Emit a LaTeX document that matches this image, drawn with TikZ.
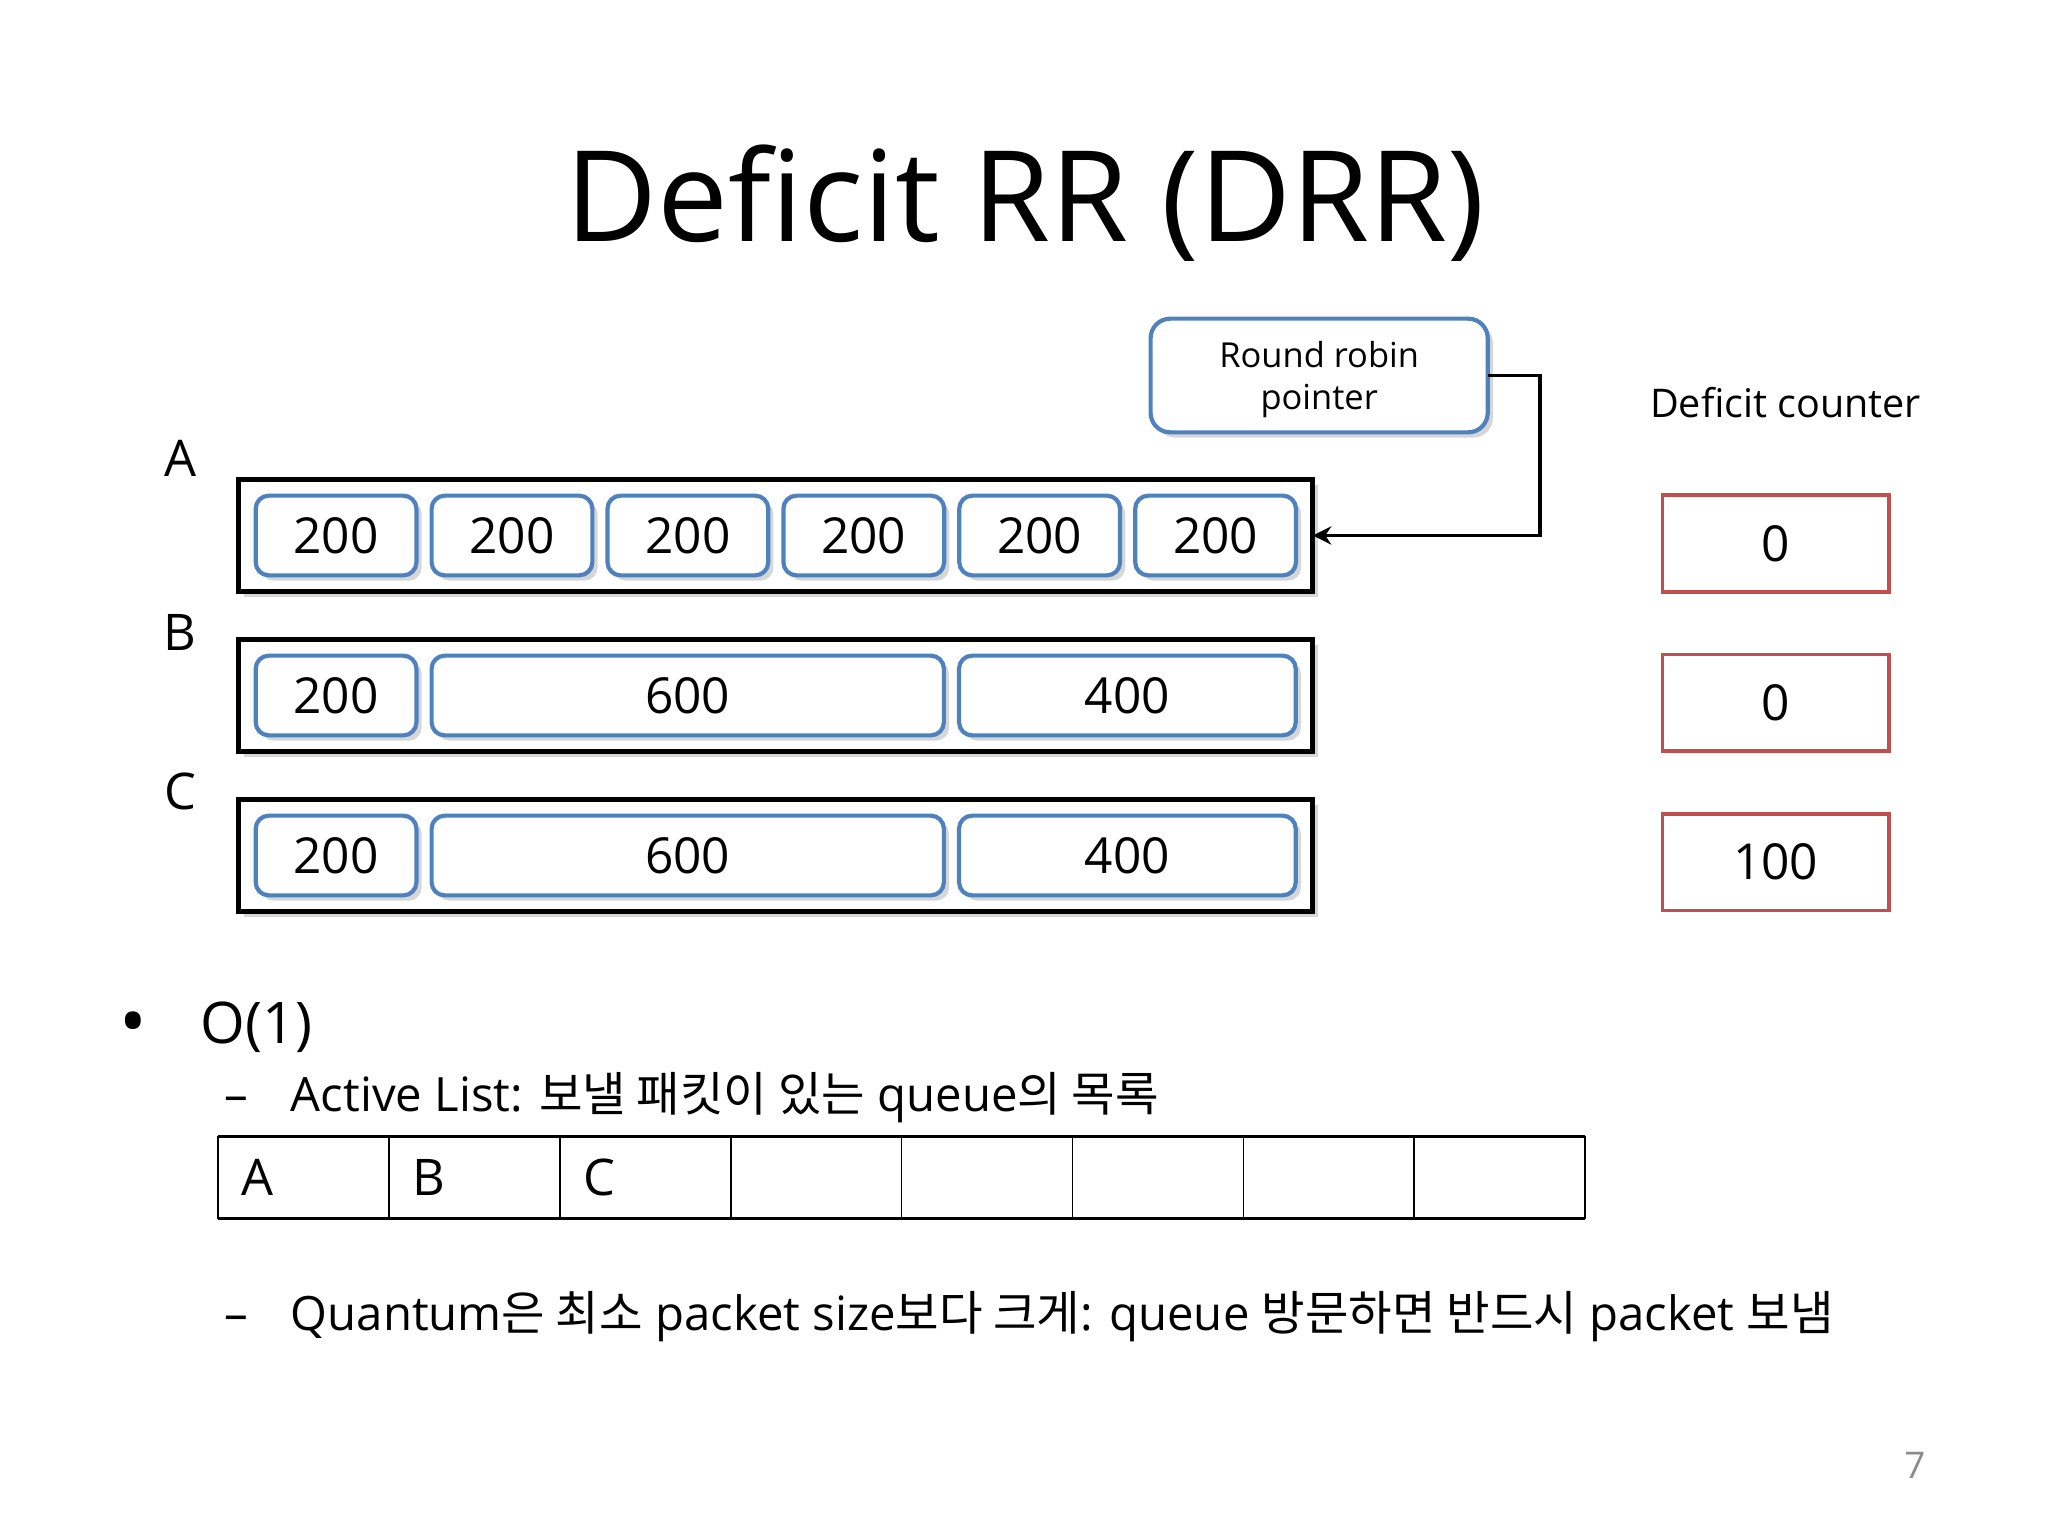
\documentclass[tikz,border=0pt]{standalone}
\usepackage{fontspec}
\setmainfont{Open Sans}
\newfontfamily\kr[Scale=1.0]{Noto Sans CJK KR}
\usepackage{tikz}
\usetikzlibrary{positioning,arrows.meta,shadows}
\usepackage{xcolor}
\definecolor{pktblue}{RGB}{79,129,189}
\definecolor{ctrred}{RGB}{192,80,77}
\newcommand{\fs}[2]{\fontsize{#1}{#2}\selectfont}
\tikzset{
  >=Stealth,
  softshadow/.style={drop shadow={shadow xshift=0.04cm,shadow yshift=-0.04cm,opacity=0.32}},
}

\begin{document}
\begin{tikzpicture}[
  x=0.01cm,y=-0.01cm,
  queue/.style={draw,line width=0.038cm,fill=white,outer sep=0pt,
    minimum width=8.22cm,minimum height=0.86cm,softshadow},
  pkt/.style={draw=pktblue,line width=0.032cm,rounded corners=0.1cm,fill=white,outer sep=0pt,
    minimum width=1.23cm,minimum height=0.61cm,inner sep=0pt,font=\fs{10.8pt}{13pt},softshadow},
  ctr/.style={draw=ctrred,line width=0.028cm,outer sep=0pt,minimum width=1.73cm,minimum height=0.74cm,
    inner sep=0pt,font=\fs{10.8pt}{13pt}},
  cell/.style={draw,line width=0.012cm,outer sep=0pt,minimum height=0.63cm,text width=0.9475cm,
    inner xsep=0.18cm,align=left,font=\fs{11pt}{13pt}},
  qlabel/.style={font=\fs{11pt}{13pt}},
  item/.style={anchor=base west,inner sep=0pt,font=\fs{10.3pt}{12pt}}
]
\useasboundingbox (0,0) rectangle (1568,1176);

% title
\node[anchor=base,font=\fs{27.5pt}{33pt}] (title) at (785,185) {Deficit RR (DRR)};

% queues
\node[queue] (qA) at (594,410) {};
\node[queue] (qB) at (594,532.5) {};
\node[queue] (qC) at (594,655) {};

\node[qlabel] (lA) at (138,351) {A};
\node[qlabel] (lB) at (138,484) {B};
\node[qlabel] (lC) at (138,606) {C};

\node[pkt,right=0.13cm of qA.west] (a1) {200};
\node[pkt,right=0.116cm of a1] (a2) {200};
\node[pkt,right=0.116cm of a2] (a3) {200};
\node[pkt,right=0.116cm of a3] (a4) {200};
\node[pkt,right=0.116cm of a4] (a5) {200};
\node[pkt,right=0.116cm of a5] (a6) {200};

\node[pkt,right=0.13cm of qB.west] (b1) {200};
\node[pkt,right=0.116cm of b1,minimum width=3.92cm] (b2) {600};
\node[pkt,right=0.116cm of b2,minimum width=2.576cm] (b3) {400};

\node[pkt,right=0.13cm of qC.west] (c1) {200};
\node[pkt,right=0.116cm of c1,minimum width=3.92cm] (c2) {600};
\node[pkt,right=0.116cm of c2,minimum width=2.576cm] (c3) {400};

% round robin pointer
\node[draw=pktblue,line width=0.032cm,rounded corners=0.15cm,fill=white,outer sep=0pt,
  minimum width=2.58cm,minimum height=0.87cm,align=center,text depth=0pt,
  font=\fs{7.5pt}{9.1pt},softshadow] (rr) at (1010,287.5) {Round robin\\pointer};
\draw[-{Stealth[length=0.14cm,width=0.14cm]},line width=0.03cm]
  (rr.east) -- ++(40,0) |- (qA.east);

% deficit counters
\node[anchor=base,font=\fs{8.6pt}{10pt}] (dctitle) at (1367,320) {Deficit counter};
\node[ctr] (dA) at (1359.5,416) {0};
\node[ctr,below=0.48cm of dA] (dB) {0};
\node[ctr,below=0.48cm of dB] (dC) {100};

% bullets
\node[font=\fs{16pt}{18pt}] (bul) at (102,788) {\textbullet};
\node[anchor=base west,inner sep=0pt,font=\fs{12.5pt}{15pt}] (o1) at (153,799) {O(1)};
\node[item] (d1) at (171,851) {–};
\node[item] (t1) at (222,851) {Active List: {\kr 보낼 패킷이 있는} queue{\kr 의 목록}};

% active list
\node[cell] (s1) at (232.4,901.5) {A};
\node[cell,right=0pt of s1] (s2) {B};
\node[cell,right=0pt of s2] (s3) {C};
\node[cell,right=0pt of s3] (s4) {};
\node[cell,right=0pt of s4] (s5) {};
\node[cell,right=0pt of s5] (s6) {};
\node[cell,right=0pt of s6] (s7) {};
\node[cell,right=0pt of s7] (s8) {};
\draw[line width=0.025cm] (s1.north west) -- (s8.north east);
\draw[line width=0.025cm] (s1.south west) -- (s8.south east);

\node[item] (d2) at (171,1019) {–};
\node[item] (t2) at (222,1019) {Quantum{\kr 은 최소} packet size{\kr 보다 크게}: queue {\kr 방문하면 반드시} packet {\kr 보냄}};

% page number
\node[font=\fs{8pt}{10pt},text=black!45] (pg) at (1466,1122) {7};
\end{tikzpicture}
\end{document}
